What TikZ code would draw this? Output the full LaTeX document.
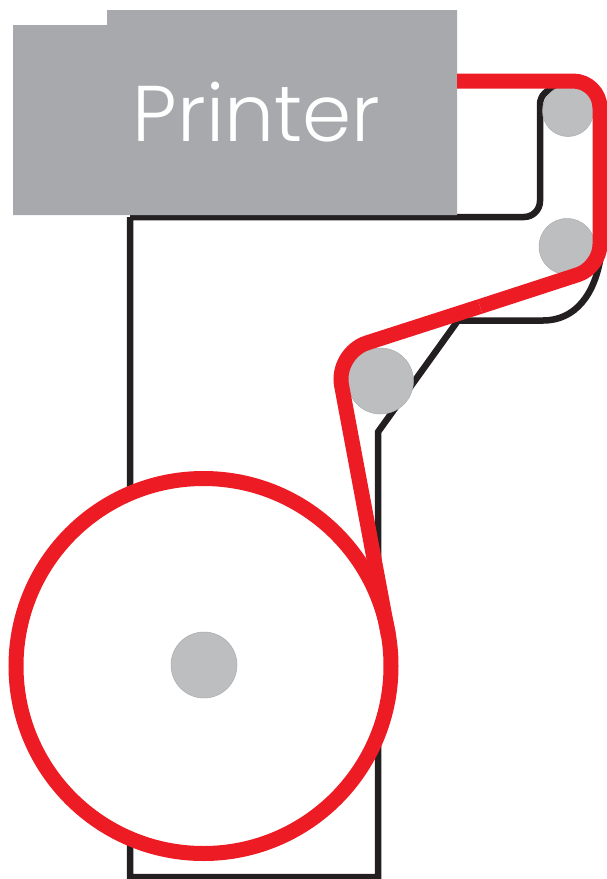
\documentclass[tikz,border=0pt]{standalone}
\usepackage{fontspec}
\setmainfont{Poppins Light}
\definecolor{webred}{HTML}{ED1C24}
\definecolor{frameblack}{HTML}{231F20}
\definecolor{printergray}{HTML}{A7A9AC}
\definecolor{rollergray}{HTML}{BCBEC0}
\tikzset{
  frameline/.style={draw=frameblack,line width=6.5pt,line join=miter},
  webline/.style={draw=webred,line width=15pt,line join=round},
  rollerdisc/.style={circle,fill=rollergray,draw=rollergray!90!black,line width=.5pt,inner sep=0pt,minimum size=#1},
  printerbody/.style={fill=printergray,draw=none},
  printerlabel/.style={text=white,font=\fontsize{79}{79}\selectfont,inner sep=0pt,anchor=base}
}
\begin{document}
\begin{tikzpicture}[x=1pt,y=-1pt]
\useasboundingbox (0,0) rectangle (606,879);
% frame
\coordinate (fa) at (130,217);
\draw[frameline,rounded corners=16pt] (fa) -- (540,217) -- (540,88.5) -- (570,88.5);
\draw[frameline] (fa) -- (130,877) -- (378,877) -- (378,432) -- (458,320.5);
\draw[frameline] (458,320.5) -- (543,320.5) .. controls (575,320.5) and (595,295) .. (601,255);
% printer
\fill[printerbody] (13,25) -- (107,25) -- (107,10) -- (457,10) -- (457,215) -- (13,215) -- cycle;
\node[printerlabel] (printer) at (256.5,141) {Printer};
% reel
\node[circle,draw=webred,fill=white,line width=15pt,minimum size=375pt,inner sep=0pt] (reel) at (203.5,666) {};
\node[rollerdisc=66pt] (hub) at (204,665) {};
% rollers
\node[rollerdisc=51pt] (r1) at (568,111) {};
\node[rollerdisc=56pt] (r2) at (567,246.5) {};
\node[rollerdisc=66pt] (r3) at (380.5,381) {};
% web
\coordinate (wstart) at (457,81);
\coordinate (wc1) at (600,81);
\coordinate (wm1) at (600,180);
\coordinate (wc2) at (600,267.5);
\coordinate (wm2) at (480,306.5);
\coordinate (wc3) at (335.5,353);
\coordinate (wend) at (388.5,636);
\draw[webline,rounded corners=27pt] (wstart) -- (wc1) -- (wm1);
\draw[webline,rounded corners=23pt] (wm1) -- (wc2) -- (wm2);
\draw[webline,rounded corners=33pt] (wm2) -- (wc3) -- (wend);
\end{tikzpicture}
\end{document}
